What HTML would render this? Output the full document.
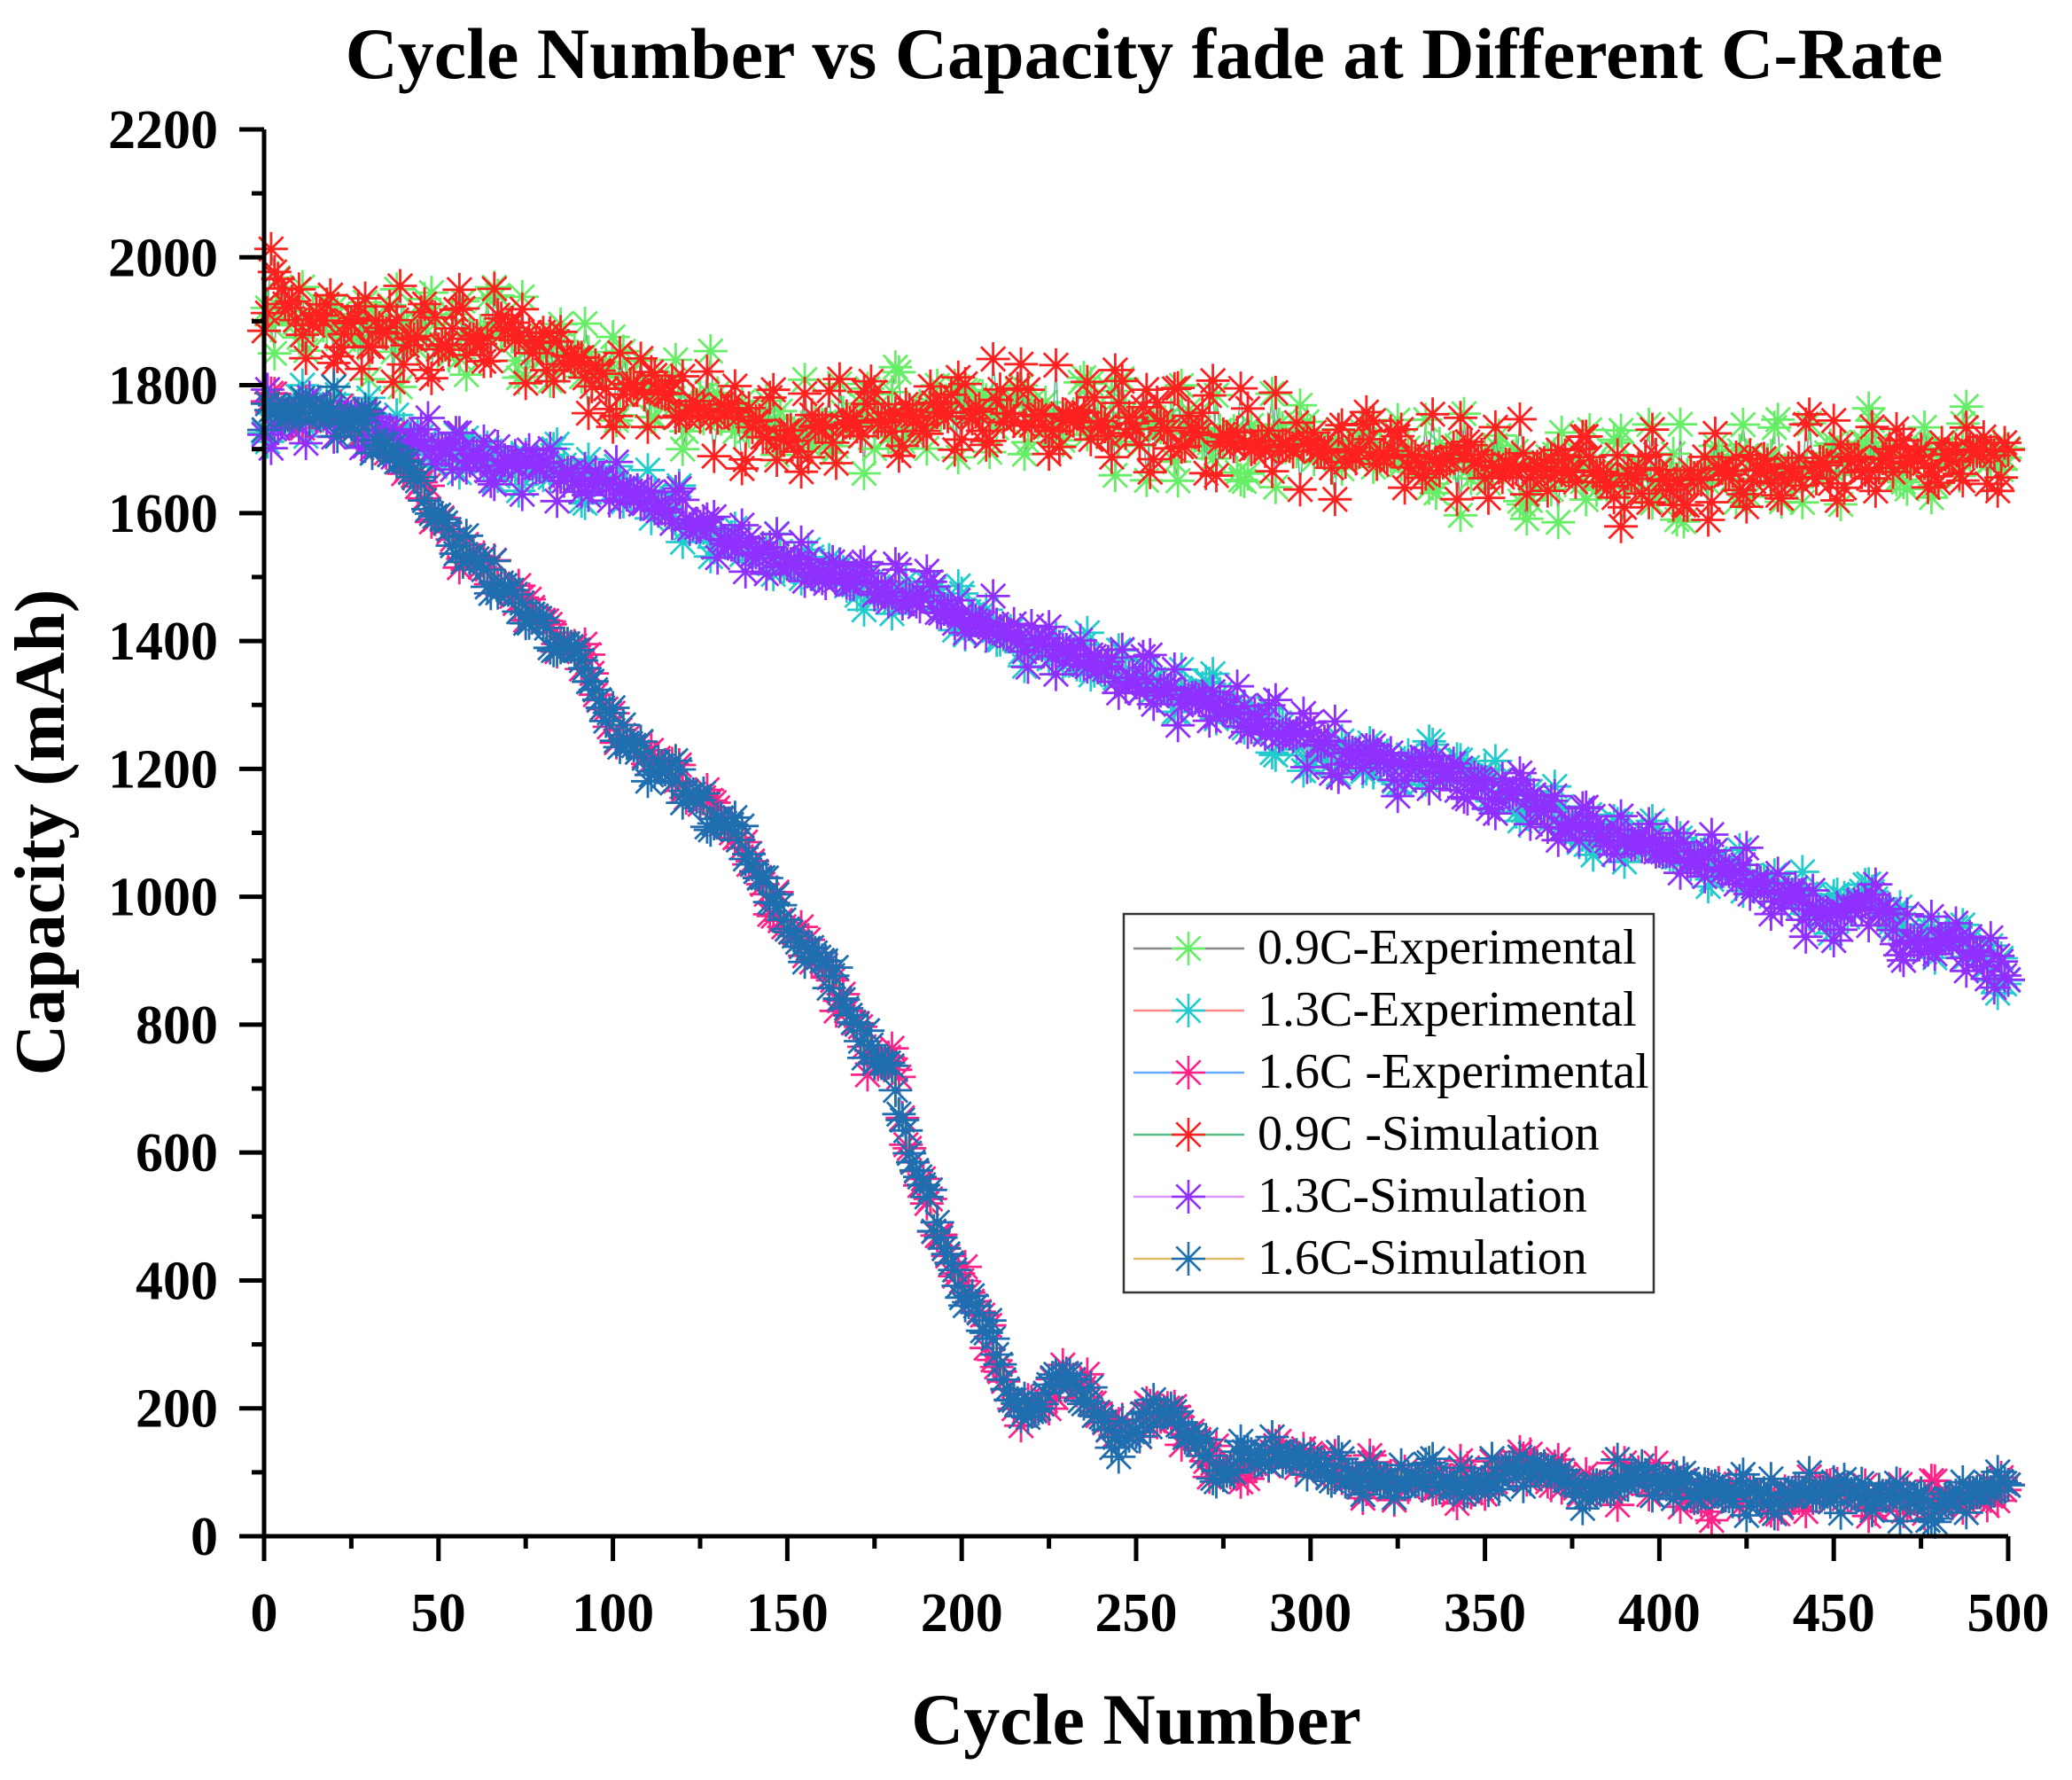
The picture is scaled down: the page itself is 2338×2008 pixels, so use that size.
<!DOCTYPE html>
<html><head><meta charset="utf-8">
<style>
html,body{margin:0;padding:0;background:#fff;}
svg{display:block;}
text{font-family:"Liberation Serif",serif;}
</style></head>
<body>
<svg id="s" xmlns="http://www.w3.org/2000/svg" width="2338" height="2008" viewBox="0 0 2338 2008">
<rect width="2338" height="2008" fill="#fff"/>
<text x="1291" y="88" font-size="82" font-weight="bold" text-anchor="middle">Cycle Number vs Capacity fade at Different C-Rate</text>
<g id="data"></g>
<g id="axes" stroke="#000" stroke-width="5" fill="none"></g>
<g id="labels" font-weight="bold" font-size="62"></g>
<text x="1282" y="1967" font-size="82" font-weight="bold" text-anchor="middle">Cycle Number</text>
<text transform="translate(72,939) rotate(-90)" font-size="80" font-weight="bold" text-anchor="middle">Capacity (mAh)</text>
<g id="legend"></g>
</svg>
<script>
const NS="http://www.w3.org/2000/svg";
const X0=298,X1=2266,Y0=1733,Y1=146;
const px=c=>X0+(X1-X0)*c/500, py=v=>Y0-(Y0-Y1)*v/2200;
function el(t,a,p){const e=document.createElementNS(NS,t);for(const k in a)e.setAttribute(k,a[k]);(p||document.getElementById('s')).appendChild(e);return e;}
const ax=document.getElementById('axes'),lb=document.getElementById('labels');
el('line',{x1:X0,y1:Y0,x2:X1,y2:Y0},ax);el('line',{x1:X0,y1:Y0+28,x2:X0,y2:Y1},ax);
el('line',{x1:X0-28,y1:Y0,x2:X0,y2:Y0},ax);
for(let c=0;c<=500;c+=25){const x=px(c);el('line',{x1:x,y1:Y0,x2:x,y2:Y0+(c%50?14:28)},ax);
 if(c%50==0){const t=el('text',{x:x,y:Y0+107,'text-anchor':'middle'},lb);t.textContent=c;}}
for(let v=0;v<=2200;v+=100){const y=py(v);el('line',{x1:X0,y1:y,x2:X0-(v%200?14:28),y2:y},ax);
 if(v%200==0){const t=el('text',{x:X0-52,y:y+21,'text-anchor':'end'},lb);t.textContent=v;}}
let seed=7;const rnd=()=>{seed=(seed*16807)%2147483647;return seed/2147483647;};
function interp(pts,c){for(let i=1;i<pts.length;i++){if(c<=pts[i][0]){const a=pts[i-1],b=pts[i];return a[1]+(b[1]-a[1])*(c-a[0])/(b[0]-a[0]);}}return pts[pts.length-1][1];}
const p09=[[0,1930],[30,1890],[50,1860],[70,1890],[100,1810],[150,1730],[200,1760],[250,1740],[300,1700],[350,1680],[400,1650],[450,1680],[500,1700]];
const p13=[[0,1750],[20,1760],[50,1700],[100,1650],[130,1560],[160,1500],[190,1460],[220,1400],[250,1340],[280,1290],[300,1240],[350,1180],[380,1100],[410,1060],[440,1000],[450,960],[460,1000],[475,920],[485,940],[500,870]];
const p16=[[0,1750],[20,1760],[40,1680],[55,1560],[70,1480],[90,1380],[100,1260],[115,1200],[135,1100],[150,950],[160,900],[175,740],[180,740],[185,600],[195,450],[205,350],[215,200],[222,200],[230,260],[245,150],[260,200],[275,100],[290,130],[315,90],[350,80],[360,120],[380,70],[395,100],[410,60],[450,70],[480,55],[500,80]];
const R=19;
function f(n){return n.toFixed(1);}
function star(x,y){const d=R*0.72;return `M${f(x-R)} ${f(y)}H${f(x+R)}M${f(x)} ${f(y-R)}V${f(y+R)}M${f(x-d)} ${f(y-d)}L${f(x+d)} ${f(y+d)}M${f(x-d)} ${f(y+d)}L${f(x+d)} ${f(y-d)}`;}
const dg=document.getElementById('data');
function series(pts,noise,mc,lc,sd){seed=sd;let m='',l='';for(let c=0;c<=500;c+=1){const v=interp(pts,c)+(rnd()-0.5)*noise*(1+Math.sin(c*0.7));const x=px(c),y=py(v);m+=star(x,y);l+=(c?'L':'M')+f(x)+' '+f(y);}
 el('path',{d:l,stroke:lc,'stroke-width':1.5,fill:'none'},dg);el('path',{d:m,stroke:mc,'stroke-width':2.8,fill:'none'},dg);}
series(p09,90,'#66ee66','#888',11);series(p13,50,'#22cccc','#f88',23);series(p16,40,'#ff2288','#6af',37);
series(p09,90,'#ff2020','#5b8',41);series(p13,55,'#9030ff','#d9f',53);series(p16,40,'#1f6fb0','#db6',67);
const lg=document.getElementById('legend');
el('rect',{x:1268,y:1031,width:598,height:427,fill:'#fff',stroke:'#333','stroke-width':2.5},lg);
const L=[['0.9C-Experimental','#888','#66ee66'],['1.3C-Experimental','#f88','#22cccc'],['1.6C -Experimental','#6af','#ff2288'],['0.9C -Simulation','#5b8','#ff2020'],['1.3C-Simulation','#d9f','#9030ff'],['1.6C-Simulation','#db6','#1f6fb0']];
L.forEach((r,i)=>{const y=1070+i*70;el('line',{x1:1279,y1:y,x2:1404,y2:y,stroke:r[1],'stroke-width':2.5},lg);
 el('path',{d:star(1341,y),stroke:r[2],'stroke-width':2.6,fill:'none'},lg);
 const t=el('text',{x:1419,y:y+17,'font-size':56},lg);t.textContent=r[0];});
</script>
</body></html>
